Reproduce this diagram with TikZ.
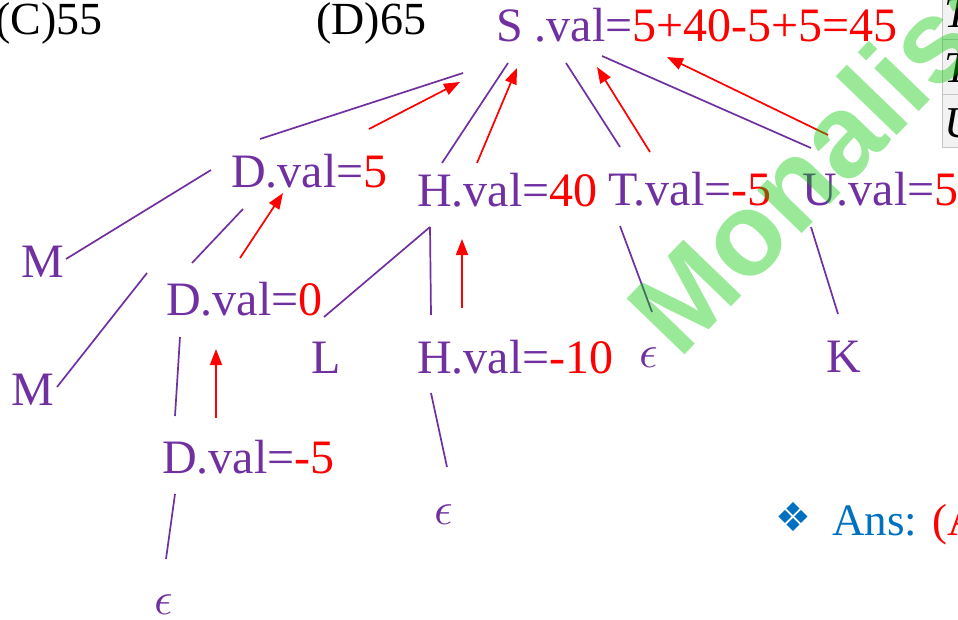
\documentclass[tikz,border=0pt]{standalone}
\usepackage{fontspec}
\setmainfont{Liberation Serif}
\newfontfamily\wmfont{Liberation Sans}
\newfontfamily\symfont{DejaVu Sans}
\usetikzlibrary{arrows.meta}
\definecolor{tpurple}{HTML}{7030A0}
\definecolor{ansblue}{HTML}{0070C0}
\definecolor{wmgreen}{RGB}{0,200,0}
\newcommand{\redval}[1]{\textcolor{red}{#1}}
\newcommand{\epsym}{\scalebox{4.6}{\normalsize$\epsilon$}}

\begin{document}
\begin{tikzpicture}[x=1pt,y=-1pt,
  lbl/.style={anchor=base west,inner sep=0pt,text=tpurple,font=\fontsize{48}{56}\selectfont},
  edge/.style={draw=tpurple,line width=1.7pt},
  up/.style={draw=red,line width=1.7pt,-{Triangle[length=16pt,width=12pt]}}]
\clip (0,0) rectangle (958,619);
% options of the question
\node[lbl,text=black,font=\fontsize{46}{54}\selectfont] (optC) at (-5,34) {(C)55};
\node[lbl,text=black,font=\fontsize{46}{54}\selectfont] (optD) at (316,34) {(D)65};
% annotated parse tree
\node[lbl] (S) at (496,41) {S .val=\redval{5+40-5+5=45}};
\node[lbl] (D1) at (231,187) {D.val=\redval{5}};
\node[lbl] (H1) at (417,206) {H.val=\redval{40}};
\node[lbl] (T) at (608,205) {T.val=\redval{-5}};
\node[lbl] (U) at (802,205) {U.val=\redval{5}};
\node[lbl] (M1) at (21,277) {M};
\node[lbl] (D2) at (166,315) {D.val=\redval{0}};
\node[lbl] (L) at (311,373) {L};
\node[lbl] (H2) at (417,373) {H.val=\redval{-10}};
\node[lbl] (eT) at (639,367) {\epsym};
\node[lbl] (K) at (826,372) {K};
\node[lbl] (M2) at (11,405) {M};
\node[lbl] (D3) at (162,473) {D.val=\redval{-5}};
\node[lbl] (eH) at (434,524) {\epsym};
\node[lbl] (eD) at (154,614) {\epsym};
% tree edges
\foreach \n/\xa/\ya/\xb/\yb in {SD/463/73/260/139, SH/508/63/442/163, ST/566/63/620/147,
    SU/602/56/811/148, DM/211/170/66/259, DD/243/209/192/263, HL/430/227/324/317,
    HH/430/227/431/315, TE/620/226/652/312, UK/811/227/838/314, DMM/147/273/57/387,
    DDD/180/337/175/416, DE/175/494/166/559, HE/431/393/447/467}
{
  \coordinate (\n-a) at (\xa,\ya);
  \coordinate (\n-b) at (\xb,\yb);
  \draw[edge] (\n-a) -- (\n-b);
}
% values passed upwards
\foreach \n/\xa/\ya/\xb/\yb in {vD/369/129/460/82, vH/477/163/517/68, vT/650/152/597/67,
    vU/828/135/667/57, vDD/240/258/283/193, vHH/462/308/462/239, vDDD/216/418/216/349}
{
  \coordinate (\n-a) at (\xa,\ya);
  \coordinate (\n-b) at (\xb,\yb);
  \draw[up] (\n-a) -- (\n-b);
}
% table cut at the edge
\foreach \r/\ya/\yb/\ch/\bl in {1/-10/39/T/27, 2/39/94/T/82, 3/94/147/U/137}
{
  \draw[gray!45,fill=gray!10,line width=1pt] (942,\ya) rectangle (980,\yb);
  \node[anchor=base west,inner sep=0pt,font=\fontsize{44}{52}\selectfont\itshape] (tab\r) at (944,\bl) {\ch};
}
% answer line
\node[text=ansblue,font=\symfont\fontsize{40}{48}\selectfont,inner sep=0pt] (bullet) at (793,517) {❖};
\node[lbl,text=ansblue,font=\fontsize{45}{54}\selectfont] (ans) at (832,535) {Ans: \redval{(A}};
% watermark
\node[anchor=base west,inner sep=0pt,rotate=46,text=wmgreen,text opacity=0.4,
  font=\wmfont\bfseries\fontsize{117}{130}\selectfont] (wm) at (679,361) {Monalisa};
\end{tikzpicture}
\end{document}
